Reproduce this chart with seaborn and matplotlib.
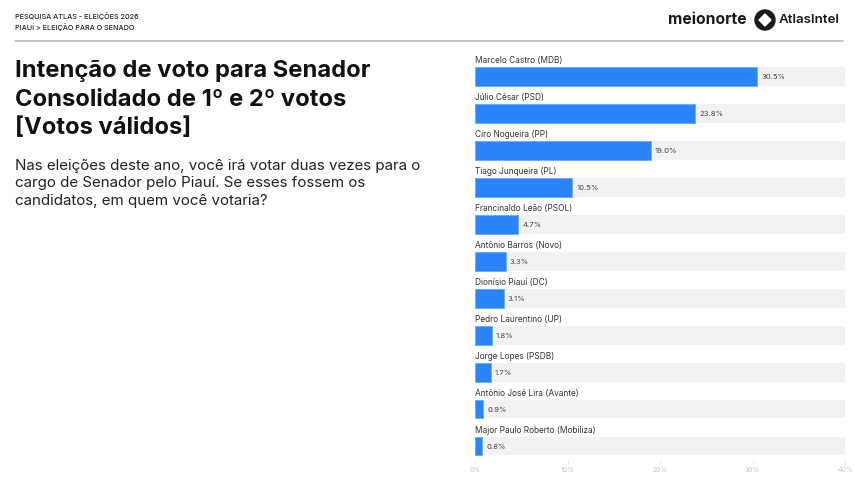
import matplotlib
matplotlib.use("Agg")
import matplotlib.pyplot as plt
import seaborn as sns
import pandas as pd
from matplotlib.patches import Circle, RegularPolygon

candidates = [
    "Marcelo Castro (MDB)", "Júlio César (PSD)", "Ciro Nogueira (PP)",
    "Tiago Junqueira (PL)", "Francinaldo Leão (PSOL)", "Antônio Barros (Novo)",
    "Dionísio Piauí (DC)", "Pedro Laurentino (UP)", "Jorge Lopes (PSDB)",
    "Antônio José Lira (Avante)", "Major Paulo Roberto (Mobiliza)",
]
values = [30.5, 23.8, 19.0, 10.5, 4.7, 3.3, 3.1, 1.8, 1.7, 0.9, 0.8]
xticks = [0, 10, 20, 30, 40]
xtick_labels = ["0%", "10%", "20%", "30%", "40%"]
xmax = 40

df = pd.DataFrame({"cand": candidates, "val": values, "bg": [xmax] * len(values)})

sns.set_theme(style="white")
plt.rcParams["font.family"] = ["Inter", "DejaVu Sans"]

W, H = 855, 479
fig = plt.figure(figsize=(W / 100, H / 100), dpi=100)

def fx(px):
    return px / W

def fy(py):
    return 1 - py / H

# axes for bars
ax_top, ax_bot = 55, 460
ax = fig.add_axes([fx(475), fy(ax_bot), fx(845) - fx(475), fy(ax_top) - fy(ax_bot)])
bar_h = 19 / 37
sns.barplot(data=df, x="bg", y="cand", orient="h", color="#f2f2f2", width=bar_h,
            ax=ax, order=candidates, saturation=1, linewidth=0)
sns.barplot(data=df, x="val", y="cand", orient="h", color="#2a84fb", width=bar_h,
            ax=ax, order=candidates, saturation=1, edgecolor="#6aaaff", linewidth=0.6)
ax.set_xlim(0, xmax)
ax.set_ylim(10 + (ax_bot - 446) / 37, -(76 - ax_top) / 37)
ax.set_xlabel("")
ax.set_ylabel("")
ax.set_yticks([])
ax.set_xticks(xticks)
ax.set_xticklabels(xtick_labels, fontsize=5, color="#c4c4c4")
ax.tick_params(axis="x", length=3, width=0.5, color="#dddddd", pad=2, bottom=True)
for s in ax.spines.values():
    s.set_visible(False)

for i, (c, v) in enumerate(zip(candidates, values)):
    ax.text(0, i - 0.43, c, fontsize=6, color="#333333", va="center", ha="left")
    ax.text(v + 0.45, i + 0.03, f"{v:.1f}%", fontsize=5.5, color="#444444",
            va="center", ha="left")

# header
fig.text(fx(15), fy(16), "PESQUISA ATLAS - ELEIÇÕES 2026", fontsize=5.2,
         color="#222222", va="center", ha="left", fontweight="medium")
fig.text(fx(15), fy(27), "PIAUÍ > ELEIÇÃO PARA O SENADO", fontsize=5.2,
         color="#222222", va="center", ha="left", fontweight="medium")
fig.add_artist(plt.Line2D([fx(15), fx(843)], [fy(41), fy(41)], color="#bbbbbb",
                          linewidth=1.2, transform=fig.transFigure))

# logos
fig.text(fx(668), fy(20), "meionorte", fontsize=11.3, color="#1a1a1a",
         va="center", ha="left", fontweight="bold")
cx, cy = 7.65, (H - 20) / 100
fig.add_artist(Circle((cx, cy), radius=0.10, transform=fig.dpi_scale_trans,
                      color="#1a1a1a"))
fig.add_artist(RegularPolygon((cx, cy), numVertices=4, radius=0.055,
                              transform=fig.dpi_scale_trans, facecolor="white",
                              edgecolor="white", linewidth=1.5, joinstyle="round"))
fig.text(fx(779), fy(20), "AtlasIntel", fontsize=9.6, color="#1a1a1a",
         va="center", ha="left", fontweight="semibold")

# title
title_lines = ["Intenção de voto para Senador", "Consolidado de 1º e 2º votos", "[Votos válidos]"]
for k, line in enumerate(title_lines):
    fig.text(fx(15), fy(71 + k * 28.5), line, fontsize=17.1, fontweight="bold",
             color="#111111", va="center", ha="left")

sub_lines = ["Nas eleições deste ano, você irá votar duas vezes para o",
             "cargo de Senador pelo Piauí. Se esses fossem os",
             "candidatos, em quem você votaria?"]
for k, line in enumerate(sub_lines):
    fig.text(fx(15), fy(166 + k * 17.5), line, fontsize=10.9, color="#222222",
             va="center", ha="left")

fig.savefig("out.png", dpi=100)
